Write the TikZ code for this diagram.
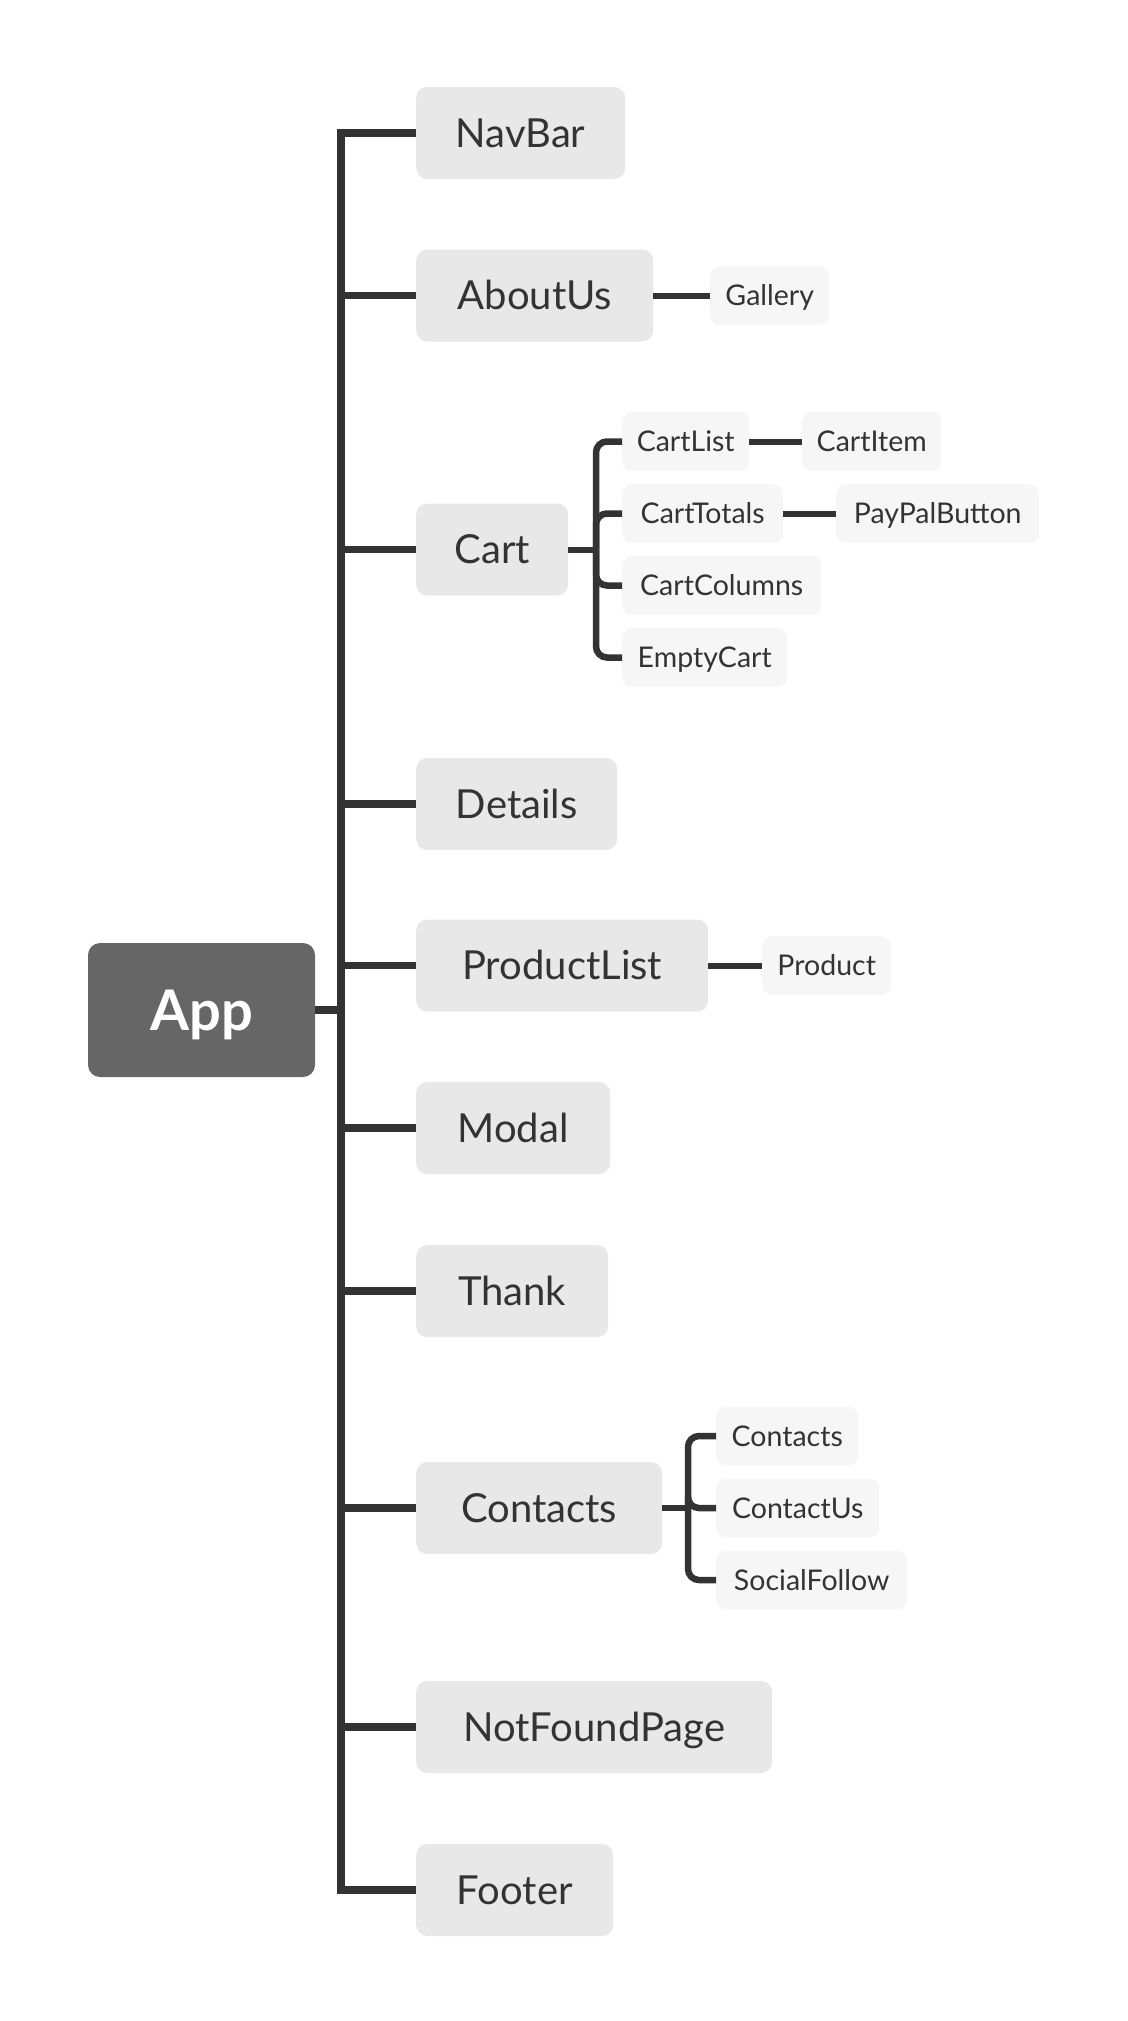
\documentclass[tikz,border=0pt]{standalone}
\usepackage{fontspec}
\setmainfont{Lato}
\definecolor{linec}{HTML}{333333}
\definecolor{bigfill}{HTML}{E8E8E8}
\definecolor{smallfill}{HTML}{F6F6F6}
\definecolor{appfill}{HTML}{666666}
\tikzset{
  bigbox/.style={fill=bigfill, rounded corners=11pt, minimum height=92pt, inner sep=0pt, anchor=west,
    font=\fontsize{40}{41}\selectfont, text=linec, text height=28pt, text depth=0pt},
  smallbox/.style={fill=smallfill, rounded corners=10pt, minimum height=59pt, inner sep=0pt, anchor=west,
    font=\fontsize{28.5}{30}\selectfont, text=linec, text height=20pt, text depth=0pt},
  appbox/.style={fill=appfill, rounded corners=12pt, minimum height=134pt, minimum width=227pt, inner sep=0pt,
    font=\fontsize{56}{58}\selectfont\bfseries, text=white, text height=40pt, text depth=0pt},
  trunk/.style={draw=linec, line width=7.5pt, line join=miter},
  twig/.style={draw=linec, line width=6pt},
  bracket/.style={draw=linec, line width=6.5pt, rounded corners=11pt},
}
\begin{document}
\begin{tikzpicture}[x=1pt,y=-1pt]
\useasboundingbox (0,0) rectangle (1127,2021);
% root
\node[appbox] (App) at (201.5,1010) {App};
% level 1
\node[bigbox, minimum width=209pt] (NavBar) at (416,133) {NavBar};
\node[bigbox, minimum width=237pt] (AboutUs) at (416,295.5) {AboutUs};
\node[bigbox, minimum width=152pt] (Cart) at (416,549.5) {Cart};
\node[bigbox, minimum width=201pt] (Details) at (416,804) {Details};
\node[bigbox, minimum width=292pt] (ProductList) at (416,965.5) {ProductList};
\node[bigbox, minimum width=194pt] (Modal) at (416,1128) {Modal};
\node[bigbox, minimum width=192pt] (Thank) at (416,1291) {Thank};
\node[bigbox, minimum width=246pt] (Contacts) at (416,1508) {Contacts};
\node[bigbox, minimum width=356pt] (NotFoundPage) at (416,1727) {NotFoundPage};
\node[bigbox, minimum width=197pt] (Footer) at (416,1890) {Footer};
% level 2+
\node[smallbox, minimum width=119pt] (Gallery) at (710,295.5) {Gallery};
\node[smallbox, minimum width=127pt] (CartList) at (622,441.5) {CartList};
\node[smallbox, minimum width=139pt] (CartItem) at (802,441.5) {CartItem};
\node[smallbox, minimum width=161pt] (CartTotals) at (622,513.5) {CartTotals};
\node[smallbox, minimum width=203pt] (PayPalButton) at (836,513.5) {PayPalButton};
\node[smallbox, minimum width=199pt] (CartColumns) at (622,585.5) {CartColumns};
\node[smallbox, minimum width=165pt] (EmptyCart) at (622,657.5) {EmptyCart};
\node[smallbox, minimum width=129pt] (Product) at (762,965.5) {Product};
\node[smallbox, minimum width=142pt] (ContactsSub) at (716,1436) {Contacts};
\node[smallbox, minimum width=163pt] (ContactUs) at (716,1508) {ContactUs};
\node[smallbox, minimum width=191pt] (SocialFollow) at (716,1580) {SocialFollow};
% trunk coordinates
\coordinate (tTop) at (341,133);
\coordinate (tBot) at (341,1890);
\coordinate (tApp) at (341,1010);
\coordinate (cartJ) at (596,549.5);
\coordinate (contJ) at (688,1508);
% trunk
\draw[trunk] (App.east) -- (tApp);
\draw[trunk] (NavBar.west) -- (tTop) -- (tBot) -- (Footer.west);
\foreach \n in {AboutUs,Cart,Details,ProductList,Modal,Thank,Contacts,NotFoundPage}
  \draw[trunk] (\n.west) -- (\n.west -| tTop);
% cart bracket
\draw[twig] (Cart.east) -- (cartJ);
\foreach \n in {CartList,CartTotals,CartColumns,EmptyCart}
  \draw[bracket] (cartJ) |- (\n.west);
% contacts bracket
\draw[twig] (Contacts.east) -- (contJ);
\foreach \n in {ContactsSub,ContactUs,SocialFollow}
  \draw[bracket] (contJ) |- (\n.west);
% simple links
\draw[twig] (AboutUs.east) -- (Gallery.west);
\draw[twig] (CartList.east) -- (CartItem.west);
\draw[twig] (CartTotals.east) -- (PayPalButton.west);
\draw[twig] (ProductList.east) -- (Product.west);
\end{tikzpicture}
\end{document}
